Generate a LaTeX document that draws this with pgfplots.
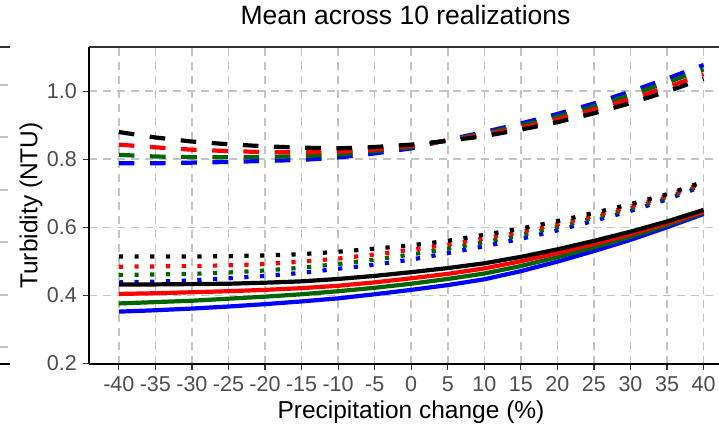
\documentclass[border=0pt]{standalone}
\usepackage{fontspec}
\setmainfont{Liberation Sans}
\usepackage{pgfplots}
\usepackage{pgfplotstable}
\pgfplotsset{compat=1.18}

\definecolor{gridgray}{RGB}{196,196,196}
\definecolor{ticktext}{RGB}{77,77,77}
\definecolor{tickgray}{RGB}{51,51,51}
\definecolor{dkgreen}{RGB}{0,100,0}

% Turbidity (NTU) against precipitation change (%), one table per line type
\pgfplotstableread{
x    black  red    green  blue
-40  0.432  0.404  0.376  0.352
-35  0.432  0.406  0.380  0.356
-30  0.433  0.409  0.384  0.361
-25  0.434  0.412  0.390  0.367
-20  0.437  0.416  0.396  0.374
-15  0.441  0.421  0.403  0.382
-10  0.448  0.428  0.412  0.391
-5   0.457  0.438  0.422  0.403
0    0.468  0.450  0.434  0.416
5    0.480  0.463  0.448  0.430
10   0.494  0.479  0.464  0.447
15   0.513  0.500  0.486  0.471
20   0.535  0.524  0.512  0.499
25   0.560  0.551  0.541  0.530
30   0.587  0.580  0.572  0.563
35   0.617  0.612  0.606  0.600
40   0.651  0.646  0.643  0.639
}\solidtab

\pgfplotstableread{
x    black  red    green  blue
-40  0.880  0.843  0.813  0.788
-35  0.864  0.835  0.808  0.788
-30  0.852  0.828  0.806  0.790
-25  0.844  0.824  0.806  0.792
-20  0.838  0.821  0.807  0.795
-15  0.834  0.820  0.809  0.798
-10  0.832  0.822  0.814  0.805
-5   0.836  0.829  0.824  0.817
0    0.843  0.839  0.836  0.832
5    0.854  0.855  0.856  0.857
10   0.868  0.872  0.876  0.880
15   0.887  0.893  0.899  0.905
20   0.909  0.917  0.925  0.933
25   0.935  0.945  0.955  0.964
30   0.965  0.977  0.989  0.999
35   0.999  1.012  1.026  1.037
40   1.037  1.050  1.064  1.077
}\dashtab

\pgfplotstableread{
x    black  red    green  blue
-40  0.514  0.484  0.460  0.438
-35  0.514  0.485  0.461  0.440
-30  0.514  0.486  0.463  0.444
-25  0.515  0.488  0.467  0.450
-20  0.517  0.492  0.473  0.457
-15  0.521  0.499  0.481  0.466
-10  0.528  0.508  0.492  0.478
-5   0.537  0.520  0.505  0.490
0    0.547  0.534  0.520  0.505
5    0.560  0.549  0.537  0.524
10   0.578  0.567  0.556  0.544
15   0.596  0.586  0.577  0.566
20   0.618  0.609  0.601  0.591
25   0.642  0.633  0.627  0.619
30   0.668  0.661  0.655  0.648
35   0.697  0.692  0.687  0.682
40   0.734  0.730  0.726  0.722
}\dottab

\pgfplotsset{
  run/.style={line width=4.2bp, line cap=butt, line join=round, no marks},
  solidrun/.style={run, solid},
  dashrun/.style={run, dash pattern=on 15.6bp off 15.6bp},
  dotrun/.style={run, dash pattern=on 4.2bp off 11.5bp},
  gridlines/.style={gridgray, line width=1.5bp, dash pattern=on 8bp off 6bp},
}

\begin{document}
\begin{tikzpicture}
\path[use as bounding box] (0,0) rectangle (719bp,427bp);

% edge of the neighbouring panel
\begin{axis}[
  at={(0bp,63bp)}, anchor=south west, scale only axis,
  width=10bp, height=317bp,
  xmin=0, xmax=1, ymin=0, ymax=317,
  axis line style={draw=none},
  xtick=\empty, ytick={17,69,122,174,227,279}, yticklabels={},
  major tick length=0pt, ymajorgrids, grid style={gridlines},
  clip=false,
]
\draw[black, line width=1.5bp] (rel axis cs:0,0) -- (rel axis cs:1,0);
\draw[tickgray, line width=1.3bp] (rel axis cs:0,1) -- (rel axis cs:1,1);
\end{axis}

\begin{axis}[
  at={(89bp,63bp)}, anchor=south west, scale only axis,
  width=630bp, height=317bp,
  xmin=-44.08, xmax=42.11, ymin=0.198, ymax=1.130,
  axis x line=bottom, axis y line=left,
  axis line style={-, line width=1.5bp, black},
  xtick={-40,-35,...,40}, ytick={0.2,0.4,0.6,0.8,1.0},
  xticklabels={-40,-35,-30,-25,-20,-15,-10,-5,0,5,10,15,20,25,30,35,40},
  yticklabels={0.2,0.4,0.6,0.8,1.0},
  /pgf/number format/assume math mode=true,
  tick align=outside, major tick length=5.5bp,
  every tick/.style={tickgray, line width=1.2bp},
  tick label style={font=\fontsize{21.5bp}{25bp}\selectfont, text=ticktext, inner sep=0pt},
  xticklabel style={anchor=base, yshift=-21.5bp},
  yticklabel style={anchor=east, xshift=-6.5bp},
  xmajorgrids, ymajorgrids, grid style={gridlines},
  title={Mean across 10 realizations},
  title style={at={(rel axis cs:0.5024,1.0514)}, anchor=base, inner sep=0pt,
    font=\fontsize{26.5bp}{32bp}\selectfont},
  xlabel={Precipitation change (\%)},
  xlabel style={at={(rel axis cs:0.5111,-0.1735)}, anchor=base, inner sep=0pt,
    font=\fontsize{24.5bp}{29bp}\selectfont},
  ylabel={Turbidity (NTU)},
  ylabel style={at={(rel axis cs:-0.08175,0.5)}, anchor=base, inner sep=0pt,
    font=\fontsize{24.5bp}{29bp}\selectfont},
  clip=false,
]
\draw[tickgray, line width=1.3bp] (rel axis cs:0,1) -- (rel axis cs:1,1);

\addplot[dotrun, blue]   table[x=x, y=blue]  {\dottab};
\addplot[dotrun, dkgreen] table[x=x, y=green] {\dottab};
\addplot[dotrun, red]    table[x=x, y=red]   {\dottab};
\addplot[dotrun, black]  table[x=x, y=black] {\dottab};

\addplot[solidrun, blue]   table[x=x, y=blue]  {\solidtab};
\addplot[solidrun, dkgreen] table[x=x, y=green] {\solidtab};
\addplot[solidrun, red]    table[x=x, y=red]   {\solidtab};
\addplot[solidrun, black]  table[x=x, y=black] {\solidtab};

\addplot[dashrun, blue]   table[x=x, y=blue]  {\dashtab};
\addplot[dashrun, dkgreen] table[x=x, y=green] {\dashtab};
\addplot[dashrun, red]    table[x=x, y=red]   {\dashtab};
\addplot[dashrun, black]  table[x=x, y=black] {\dashtab};
\end{axis}
\end{tikzpicture}
\end{document}
